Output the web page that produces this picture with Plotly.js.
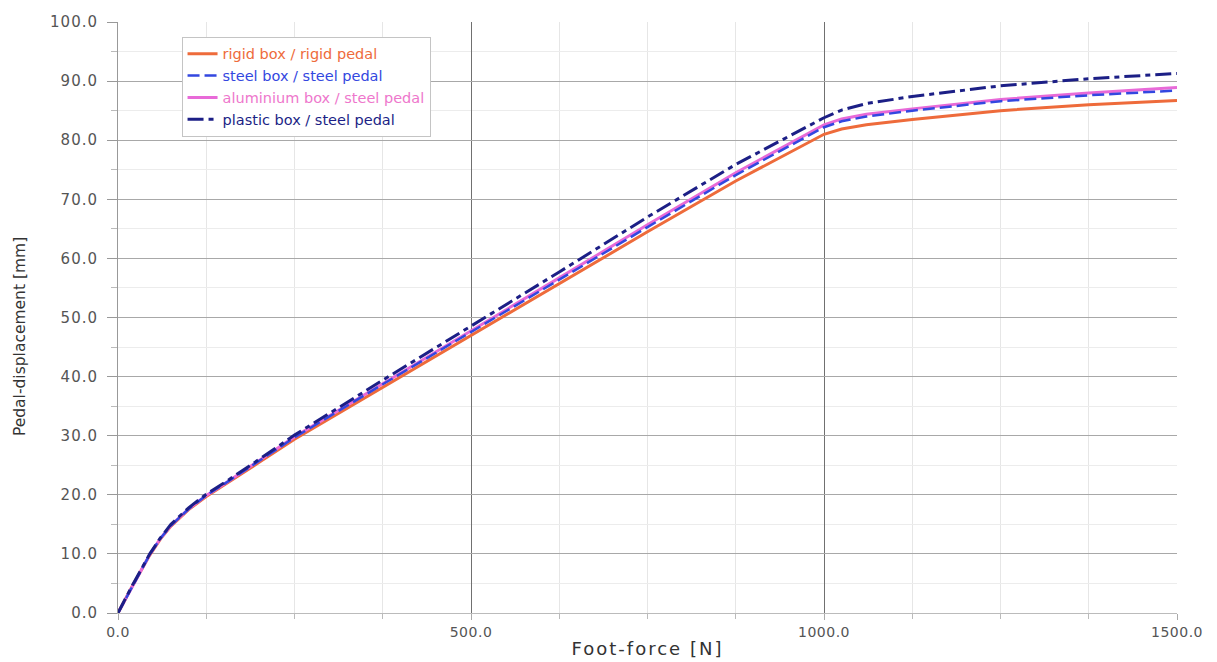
<!DOCTYPE html>
<html>
<head>
<meta charset="utf-8">
<script src="https://cdn.plot.ly/plotly-3.0.1.min.js"></script>
<style>
html,body{margin:0;padding:0;background:#fff;}
#chart{width:1217px;height:662px;}
#chart .xtick text{letter-spacing:0.5px;}
#chart .ytick text{letter-spacing:1px;}
#chart .g-xtitle text{letter-spacing:2px;}
</style>
</head>
<body>
<div id="chart"></div>
<script>
// Foot-force [N]
const force = [0, 20, 45, 60, 75, 100, 125, 150, 200, 250, 375, 500, 625, 750, 875, 1000, 1025, 1060, 1125, 1250, 1375, 1500];
// Pedal displacement [mm]
const rigidBox    = [0, 4.5, 9.8, 12.5, 14.7, 17.5, 19.7, 21.6, 25.5, 29.4, 38.2, 46.9, 55.7, 64.5, 73.1, 81.0, 81.9, 82.6, 83.5, 85.0, 86.0, 86.7];
const steelBox    = [0, 4.5, 9.9, 12.6, 14.8, 17.6, 19.9, 21.8, 25.8, 29.7, 38.7, 47.5, 56.4, 65.3, 74.1, 82.2, 83.2, 84.0, 85.0, 86.6, 87.6, 88.4];
const aluBox      = [0, 4.5, 9.9, 12.6, 14.8, 17.6, 19.9, 21.8, 25.8, 29.8, 38.8, 47.7, 56.7, 65.7, 74.5, 82.6, 83.6, 84.4, 85.3, 86.9, 88.0, 88.9];
const plasticBox  = [0, 4.6, 10.0, 12.7, 15.0, 17.8, 20.1, 22.0, 26.0, 30.1, 39.4, 48.5, 57.7, 67.0, 75.9, 83.8, 85.1, 86.2, 87.4, 89.2, 90.4, 91.3];

const names = ['rigid box / rigid pedal', 'steel box / steel pedal', 'aluminium box / steel pedal', 'plastic box / steel pedal'];
const xTicks = [0, 500, 1000, 1500];
const xTickText = ['0.0', '500.0', '1000.0', '1500.0'];
const yTitle = 'Pedal-displacement [mm]';

const cRigid = '#ee6b3b', cSteel = '#3347e0', cAlu = '#e86ad8', cPlastic = '#1c1f86';
function nm(t, c){ return '<span style="color:' + c + '">' + t + '</span>'; }

const traces = [
  {x: force, y: rigidBox, name: nm(names[0], cRigid), legendrank: 1, mode: 'lines', line: {color: cRigid, width: 3}},
  {x: force, y: aluBox, name: nm(names[2], '#ee77cc'), legendrank: 3, mode: 'lines', line: {color: cAlu, width: 3}},
  {x: force, y: steelBox, name: nm(names[1], cSteel), legendrank: 2, mode: 'lines', line: {color: cSteel, width: 2.5, dash: '12px,5px'}},
  {x: force, y: plasticBox, name: nm(names[3], cPlastic), legendrank: 4, mode: 'lines', line: {color: cPlastic, width: 3, dash: '16px,5px,5px,5px'}}
];

const layout = {
  width: 1217, height: 662,
  margin: {l: 118, r: 40, t: 22, b: 49},
  paper_bgcolor: '#fff', plot_bgcolor: '#fff',
  font: {family: 'DejaVu Sans, Liberation Sans, Arial, sans-serif', color: '#444', size: 13},
  showlegend: true,
  legend: {x: 0.06, y: 0.975, xanchor: 'left', yanchor: 'top', bgcolor: '#fff', bordercolor: '#c4c4c4', borderwidth: 1,
           font: {size: 14.5}, tracegroupgap: 0, itemwidth: 30, traceorder: 'normal'},
  xaxis: {
    range: [0, 1500], tickvals: xTicks, ticktext: xTickText,
    showgrid: true, gridcolor: '#707070', gridwidth: 1,
    ticks: 'outside', ticklen: 6, tickcolor: '#aaa',
    showline: true, linecolor: '#bbb', linewidth: 1, zeroline: false,
    minor: {dtick: 125, showgrid: true, gridcolor: '#e6e6e6', ticks: 'outside', ticklen: 5, tickcolor: '#bbb'},
    tickfont: {size: 14, color: '#555'},
    title: {text: 'Foot-force [N]', font: {size: 18, color: '#333'}, standoff: 3}
  },
  yaxis: {
    range: [0, 100], dtick: 10, tickformat: '.1f',
    showgrid: true, gridcolor: '#a8a8a8', gridwidth: 1,
    ticks: 'outside', ticklen: 10, tickcolor: '#999',
    showline: true, linecolor: '#999', linewidth: 1, zeroline: false,
    ticklabelstandoff: 6,
    minor: {dtick: 5, showgrid: true, gridcolor: '#ececec', ticks: 'outside', ticklen: 6, tickcolor: '#bbb'},
    tickfont: {size: 15, color: '#555'}
  },
  annotations: [{
    text: yTitle, xref: 'paper', yref: 'paper', x: -0.0925, y: 0.467,
    xanchor: 'center', yanchor: 'middle', textangle: -90, showarrow: false,
    font: {size: 15.5, color: '#333'}
  }]
};

Plotly.newPlot('chart', traces, layout, {displayModeBar: false, staticPlot: true});
</script>
</body>
</html>
